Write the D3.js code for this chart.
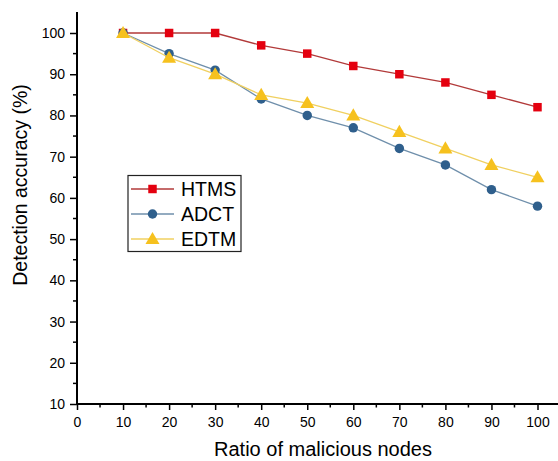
<!DOCTYPE html>
<html>
<head>
<meta charset="utf-8">
<script src="https://cdn.jsdelivr.net/npm/d3@7/dist/d3.min.js"></script>
<style>
  html, body { margin: 0; padding: 0; background: #fff; }
  svg { display: block; font-family: Arial, "Liberation Sans", sans-serif; }
</style>
</head>
<body>
<svg id="chart" width="558" height="461"></svg>
<script>
// Ratio of malicious nodes (%)
const ratios = [10, 20, 30, 40, 50, 60, 70, 80, 90, 100];
// Detection accuracy (%) per model
const htms = [100, 100, 100, 97, 95, 92, 90, 88, 85, 82];
const adct = [100, 95, 91, 84, 80, 77, 72, 68, 62, 58];
const edtm = [100, 94, 90, 85, 83, 80, 76, 72, 68, 65];
const seriesNames = ["HTMS", "ADCT", "EDTM"];
const xTicks = [0, 10, 20, 30, 40, 50, 60, 70, 80, 90, 100];
const yTicks = [10, 20, 30, 40, 50, 60, 70, 80, 90, 100];

const styles = {
  HTMS: { line: "#b23a3a", fill: "#e4000f", shape: d3.symbolSquare, size: 72 },
  ADCT: { line: "#6f8fab", fill: "#2f5f8c", shape: d3.symbolCircle, size: 70 },
  EDTM: { line: "#f0d060", fill: "#f6c11e", shape: d3.symbolTriangle, size: 85 }
};

const series = [
  { name: seriesNames[0], values: htms },
  { name: seriesNames[1], values: adct },
  { name: seriesNames[2], values: edtm }
];

const svg = d3.select("#chart");
const x = d3.scaleLinear().domain([0, 100]).range([77, 537.5]);
const y = d3.scaleLinear().domain([10, 100]).range([404, 33]);

// axes with minor ticks every 5 units
const minorX = d3.range(5, 105, 10);
const minorY = d3.range(15, 105, 10);

const gx = svg.append("g").attr("transform", "translate(0,404)");
gx.append("line").attr("x1", 77).attr("x2", 558).attr("stroke", "#000").attr("stroke-width", 2);
gx.call(g => g.append("g")
  .call(d3.axisBottom(x).tickValues(xTicks).tickSize(6).tickPadding(7).tickFormat(d3.format("d")))
  .call(a => a.select(".domain").remove())
  .call(a => a.selectAll(".tick line").attr("stroke-width", 1.5))
  .call(a => a.selectAll("text").attr("font-size", 14).attr("fill", "#000")
    .attr("font-family", "Arial, 'Liberation Sans', sans-serif")));
gx.selectAll(".minor").data(minorX).enter().append("line")
  .attr("x1", d => x(d)).attr("x2", d => x(d)).attr("y1", 0).attr("y2", 3.5)
  .attr("stroke", "#000").attr("stroke-width", 1.5);

const gy = svg.append("g").attr("transform", "translate(77,0)");
gy.append("line").attr("y1", 12).attr("y2", 405).attr("stroke", "#000").attr("stroke-width", 2);
gy.call(g => g.append("g")
  .call(d3.axisLeft(y).tickValues(yTicks).tickSize(7).tickPadding(5).tickFormat(d3.format("d")))
  .call(a => a.select(".domain").remove())
  .call(a => a.selectAll(".tick line").attr("stroke-width", 1.5))
  .call(a => a.selectAll("text").attr("font-size", 14).attr("fill", "#000")
    .attr("font-family", "Arial, 'Liberation Sans', sans-serif")));
gy.selectAll(".minor").data(minorY).enter().append("line")
  .attr("y1", d => y(d)).attr("y2", d => y(d)).attr("x1", 0).attr("x2", -4)
  .attr("stroke", "#000").attr("stroke-width", 1.5);

// axis titles
svg.append("text").attr("x", 323).attr("y", 456).attr("text-anchor", "middle")
  .attr("font-size", 20).attr("fill", "#000").text("Ratio of malicious nodes");
svg.append("text").attr("transform", "translate(27,185) rotate(-90)").attr("text-anchor", "middle")
  .attr("font-size", 19.5).attr("fill", "#000").text("Detection accuracy (%)");

// series lines and markers
const line = d3.line().x((d, i) => x(ratios[i])).y(d => y(d));
series.forEach(s => {
  const st = styles[s.name];
  svg.append("path").datum(s.values).attr("d", line)
    .attr("fill", "none").attr("stroke", st.line).attr("stroke-width", 1.3);
  svg.selectAll(null).data(s.values).enter().append("path")
    .attr("d", d3.symbol().type(st.shape).size(st.size))
    .attr("transform", (d, i) => `translate(${x(ratios[i])},${y(d) + (st.shape === d3.symbolTriangle ? 1 : 0)})`)
    .attr("fill", st.fill);
});

// legend
const lg = svg.append("g");
lg.append("rect").attr("x", 128).attr("y", 175.5).attr("width", 113).attr("height", 76)
  .attr("fill", "#fff").attr("stroke", "#222").attr("stroke-width", 1.2);
const rowY = [189, 214, 239];
series.forEach((s, i) => {
  const st = styles[s.name];
  lg.append("line").attr("x1", 131).attr("x2", 174).attr("y1", rowY[i]).attr("y2", rowY[i])
    .attr("stroke", st.line).attr("stroke-width", 1.3);
  lg.append("path").attr("d", d3.symbol().type(st.shape).size(st.size))
    .attr("transform", `translate(152.5,${rowY[i] + (st.shape === d3.symbolTriangle ? 1 : 0)})`)
    .attr("fill", st.fill);
  lg.append("text").attr("x", 181).attr("y", rowY[i] + 7).attr("font-size", 19.5)
    .attr("fill", "#000").text(s.name);
});
</script>
</body>
</html>
